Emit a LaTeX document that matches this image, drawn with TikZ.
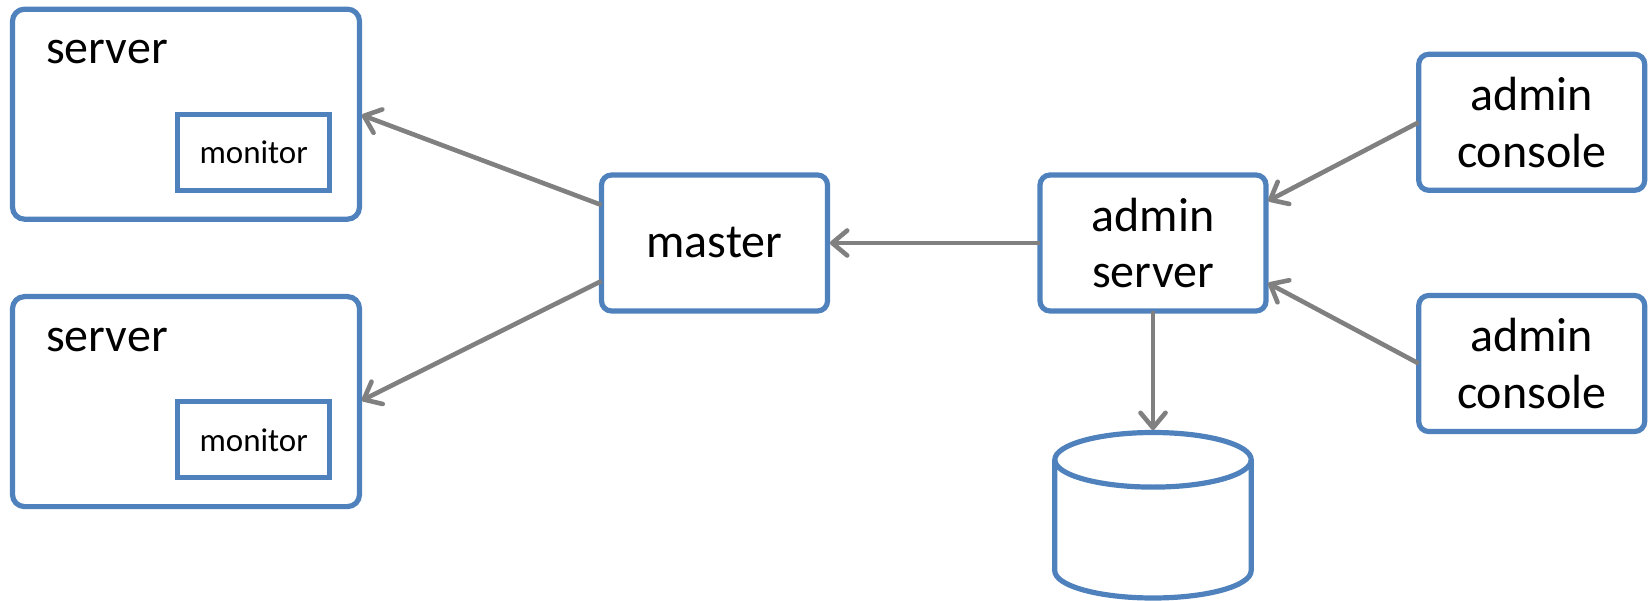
\documentclass[tikz,border=0pt]{standalone}
\usepackage{fontspec}
\setmainfont{Carlito}
\usetikzlibrary{positioning}
\usetikzlibrary{arrows.meta, positioning}
\definecolor{boxblue}{RGB}{79,129,189}
\definecolor{linegray}{RGB}{128,128,128}
\tikzstyle{box} = [draw=boxblue, line width=2.6pt, rounded corners=5pt, outer sep=0pt, inner sep=0pt, minimum width=113pt, minimum height=68pt, align=center, font=\fontsize{24}{28.4}\selectfont]
\tikzstyle{srvbox} = [box, rounded corners=6pt, minimum width=173.5pt, minimum height=105pt]
\tikzstyle{monbox} = [box, sharp corners, minimum width=76pt, minimum height=38pt, font=\fontsize{16.5}{19}\selectfont]
\tikzstyle{lbl} = [anchor=base west, inner sep=0pt, font=\fontsize{24}{28.4}\selectfont]
\tikzstyle{arrow} = [draw=linegray, line width=2.3pt, shorten >=1.2pt, -{Straight Barb[length=7.5pt, width=12.5pt, round]}]

\begin{document}
\begin{tikzpicture}[x=0.5pt, y=0.5pt]
        \useasboundingbox (0,0) rectangle (1652,600);

        \begin{scope}
            \node[srvbox] (srvA) at (186,485.8) {};
            \node[lbl] (srvAlbl) at ([xshift=16.6pt, yshift=-27.2pt]srvA.north west) {server};
            \node[monbox, above left=14.4pt and 14.9pt of srvA.south east] (monA) {monitor};

            \node[srvbox] (srvB) at (186,198.4) {};
            \node[lbl] (srvBlbl) at ([xshift=16.6pt, yshift=-27.2pt]srvB.north west) {server};
            \node[monbox, above left=14.4pt and 14.9pt of srvB.south east] (monB) {monitor};
        \end{scope}

        \node[box] (master) at (714.5,357) {master};
        \node[box, right=106.25pt of master] (adminsrv) {admin\\server};

        \node[box] (consA) at (1531.7,477.7) {admin\\console};
        \node[box] (consB) at (1531.7,236.5) {admin\\console};

        % database cylinder
        \node[below=60.75pt of adminsrv, minimum width=98.25pt, minimum height=82.75pt, inner sep=0pt, outer sep=0pt] (db) {};
        \draw[boxblue, line width=2.6pt] ([yshift=-13.65pt]db.north) ellipse [x radius=49.1pt, y radius=13.65pt];
        \draw[boxblue, line width=2.6pt] ([yshift=-13.65pt]db.north west) -- ([yshift=13.65pt]db.south west)
            arc[start angle=180, end angle=360, x radius=49.1pt, y radius=13.65pt] -- ([yshift=-13.65pt]db.north east);

        \draw[arrow] ([yshift=19pt]master.west) -- (srvA.east);
        \draw[arrow] ([yshift=-19pt]master.west) -- (srvB.east);
        \draw[arrow] (adminsrv.west) -- (master.east);
        \draw[arrow] (consA.west) -- ([yshift=20.5pt]adminsrv.east);
        \draw[arrow] (consB.west) -- ([yshift=-19.5pt]adminsrv.east);
        \draw[arrow] (adminsrv.south) -- (db.north);
    \end{tikzpicture}
\end{document}
